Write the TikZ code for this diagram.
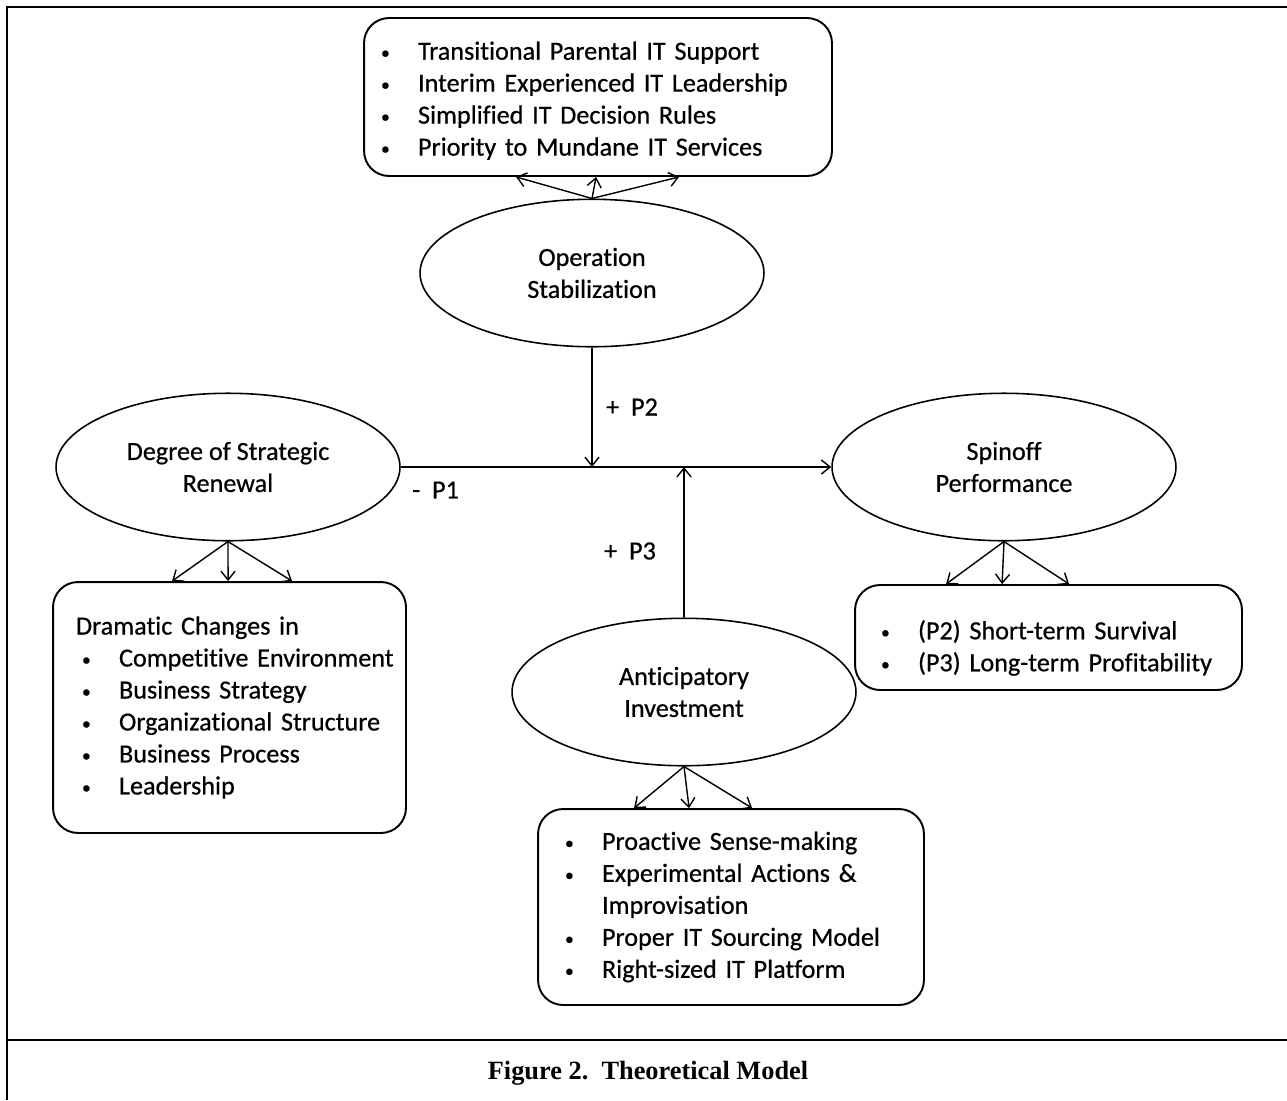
\documentclass[tikz,border=0pt]{standalone}
\usepackage{fontspec}
\setmainfont{Carlito}[Ligatures=NoCommon, FakeBold=0.6]
\newfontfamily\capfont{Liberation Serif}
\usetikzlibrary{shapes.geometric,arrows.meta,calc}

\newcommand{\itm}[1]{\makebox[0.74cm][l]{\raisebox{0.6pt}{\fontsize{10pt}{10pt}\selectfont\textbullet}}\mbox{#1}}

\begin{document}
\begin{tikzpicture}[x=0.02cm, y=-0.02cm,
    >={Straight Barb[length=5pt,width=8pt]},
    every node/.style={font=\fontsize{14.9pt}{18.2pt}\selectfont},
    construct/.style={draw, ellipse, line width=0.9pt, inner sep=0pt,
      minimum width=6.88cm, minimum height=2.95cm, align=center},
    listbox/.style={draw, rounded corners=0.5cm, line width=1.1pt, align=left},
    link/.style={->, line width=0.8pt},
    plabel/.style={anchor=west}]

  \useasboundingbox (0,0) rectangle (1287,1100);

  % Frame
  \draw[line width=1.6pt] (7,1100) -- (7,7) -- (1287,7);
  \draw[line width=1.6pt] (7,1040) -- (1287,1040);

  % Constructs
  \node[construct] (stab) at (592,273) {Operation\\Stabilization};
  \node[construct] (renewal) at (228,467) {Degree of Strategic\\Renewal};
  \node[construct] (perf) at (1004,467) {Spinoff\\Performance};
  \node[construct] (invest) at (684,692) {Anticipatory\\Investment};

  % Dimensions
  \node[listbox, text width=8.68cm, inner xsep=0.34cm, minimum height=3.16cm] (stabbox) at (598,97) {
    \itm{\rule{0pt}{0.51cm}Transitional Parental IT Support}\\
    \itm{Interim Experienced IT Leadership}\\
    \itm{Simplified IT Decision Rules}\\
    \itm{Priority to Mundane IT Services}};
  \node[listbox, text width=6.14cm, inner xsep=0.46cm, minimum height=5.02cm] (renewalbox) at (229.5,707.5) {
    Dramatic Changes in\\
    \hspace*{0.12cm}\itm{Competitive Environment}\\
    \hspace*{0.12cm}\itm{Business Strategy}\\
    \hspace*{0.12cm}\itm{Organizational Structure}\\
    \hspace*{0.12cm}\itm{Business Process}\\
    \hspace*{0.12cm}\itm{Leadership}};
  \node[listbox, text width=6.7cm, inner xsep=0.52cm, minimum height=2.1cm] (perfbox) at (1048.5,637.5) {
    \itm{\rule{0pt}{0.8cm}(P2) Short-term Survival}\\
    \itm{(P3) Long-term Profitability}};
  \node[listbox, text width=6.64cm, inner xsep=0.54cm, minimum height=3.92cm] (investbox) at (731,907) {
    \itm{Proactive Sense-making}\\
    \itm{Experimental Actions \&}\\
    \hspace*{0.74cm}Improvisation\\
    \itm{Proper IT Sourcing Model}\\
    \itm{Right-sized IT Platform}};

  % Main effect and moderators
  \draw[link] (renewal.east) -- (perf.west);
  \draw[link] (stab.south) -- (stab.south |- renewal.east);
  \draw[link] (invest.north) -- (invest.north |- renewal.east);

  \node[plabel] (p1) at (406,490) {-\ \ P1};
  \node[plabel] (p2) at (600,407) {+\ \ P2};
  \node[plabel] (p3) at (598,551) {+\ \ P3};

  % Fans to dimensions
  \foreach \dx in {153,233,316}
    \draw[link] (stab.north) -- ($(stabbox.south west)+(\dx,0)$);
  \foreach \dx in {120,176,240}
    \draw[link] (renewal.south) -- ($(renewalbox.north west)+(\dx,0)$);
  \foreach \dx in {92,148,215}
    \draw[link] (perf.south) -- ($(perfbox.north west)+(\dx,0)$);
  \foreach \dx in {97,152,215}
    \draw[link] (invest.south) -- ($(investbox.north west)+(\dx,0)$);

  % Caption
  \node[font=\capfont\bfseries\fontsize{15pt}{18pt}\selectfont] (caption) at (648,1073) {Figure 2.\ \ Theoretical Model};
\end{tikzpicture}
\end{document}
